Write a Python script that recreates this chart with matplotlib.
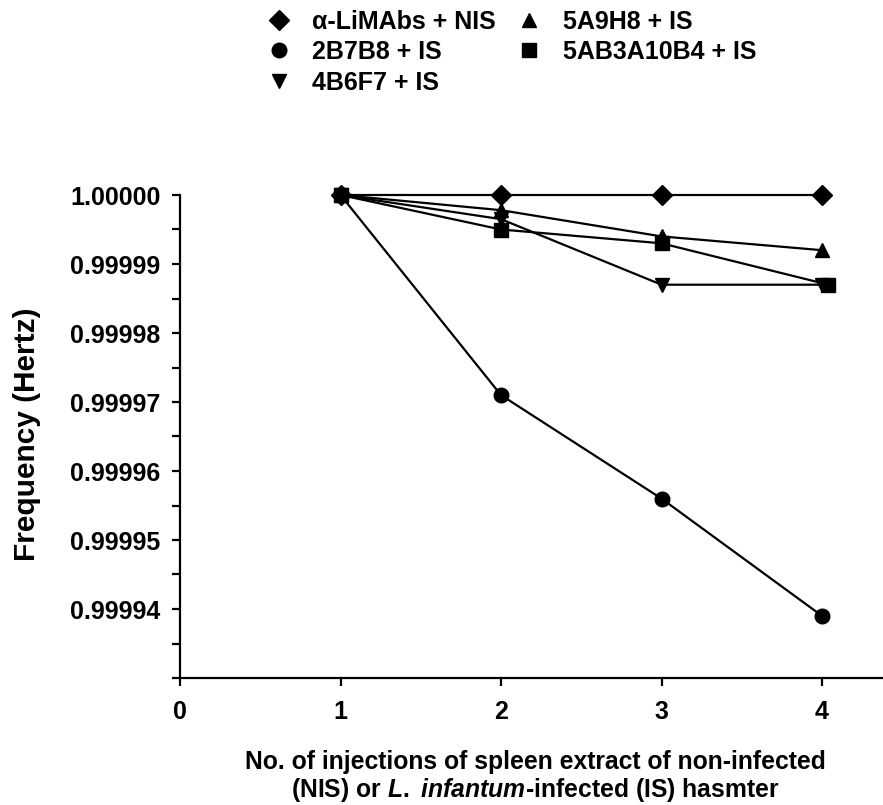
import numpy as np
import matplotlib
matplotlib.use("Agg")
import matplotlib.pyplot as plt
from matplotlib.lines import Line2D
from matplotlib.ticker import MultipleLocator, FormatStrFormatter

plt.rcParams["font.family"] = ["Liberation Sans", "DejaVu Sans"]
plt.rcParams["font.weight"] = "bold"
plt.rcParams["mathtext.fontset"] = "custom"
plt.rcParams["mathtext.rm"] = "Liberation Sans:bold"
plt.rcParams["mathtext.it"] = "Liberation Sans:italic:bold"

# data
injections = [1, 2, 3, 4]
injections_sq = [1, 2, 3, 4.04]   # squares sit a touch right of 4
series_names = ["α-LiMAbs + NIS", "2B7B8 + IS", "4B6F7 + IS",
                "5A9H8 + IS", "5AB3A10B4 + IS"]
limabs_nis = [1.0, 1.0, 1.0, 1.0]
b7b8_is = [1.0, 0.999971, 0.999956, 0.999939]
b6f7_is = [1.0, 0.9999965, 0.999987, 0.999987]
a9h8_is = [1.0, 0.9999978, 0.999994, 0.999992]
ab3a10b4_is = [1.0, 0.999995, 0.999993, 0.999987]
markers = ["D", "o", "v", "^", "s"]
msizes = [10, 10.5, 10.5, 10.5, 10.5]

x_ticks = [0, 1, 2, 3, 4]
y_ticks = [0.99994, 0.99995, 0.99996, 0.99997, 0.99998, 0.99999, 1.00000]

W, H = 883, 805
fig = plt.figure(figsize=(W / 100, H / 100), dpi=100)
ax = fig.add_axes([180 / W, (H - 678) / H, (W - 180) / W, (678 - 195) / H])

all_x = [injections, injections, injections, injections, injections_sq]
all_y = [limabs_nis, b7b8_is, b6f7_is, a9h8_is, ab3a10b4_is]
for xs, ys, m, ms in zip(all_x, all_y, markers, msizes):
    ax.plot(xs, ys, color="black", lw=1.6, marker=m, ms=ms, clip_on=False)

ax.set_xlim(0, 4.38)
ax.set_ylim(0.99993, 1.0)
ax.set_xticks(x_ticks)
ax.set_yticks(y_ticks)
ax.yaxis.set_minor_locator(MultipleLocator(0.000005))
ax.yaxis.set_major_formatter(FormatStrFormatter("%.5f"))

for s in ["top", "right"]:
    ax.spines[s].set_visible(False)
for s in ["left", "bottom"]:
    ax.spines[s].set_linewidth(1.6)

ax.tick_params(axis="both", which="major", length=6, width=1.6, labelsize=18)
ax.tick_params(axis="y", which="minor", length=6, width=1.6)
ax.tick_params(axis="x", pad=10)
ax.tick_params(axis="y", pad=8)

fig.text(27 / W, 1 - 434 / H, "Frequency (Hertz)", rotation=90,
         ha="center", va="center", fontsize=21.5, fontweight="bold")

fig.text(535 / W, 1 - 762 / H,
         "No. of injections of spleen extract of non-infected",
         ha="center", va="center", fontsize=17.8, fontweight="bold")
fig.text(535 / W, 1 - 790 / H,
         r"(NIS) or $\mathit{L.}$ $\mathit{infantum}$-infected (IS) hasmter",
         ha="center", va="center", fontsize=17.8, fontweight="bold")

handles = [Line2D([], [], color="black", marker=m, ms=ms, ls="none")
           for m, ms in zip(markers, msizes)]
fig.legend(handles, series_names, ncol=2, frameon=False,
           loc="upper left", bbox_to_anchor=(266 / W, 1 - 10 / H),
           fontsize=18, handlelength=1.0, handletextpad=0.86,
           labelspacing=0.25, columnspacing=0.8, borderaxespad=0,
           borderpad=0)

fig.savefig("out.png", dpi=100)
